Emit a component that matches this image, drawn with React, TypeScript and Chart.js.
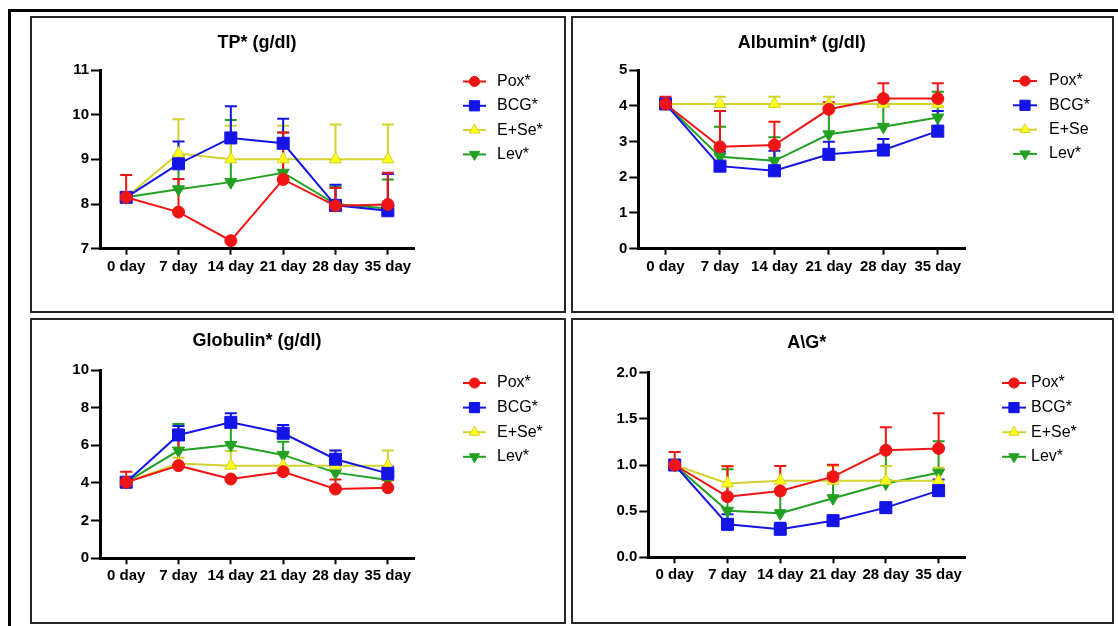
import React, { useEffect, useRef } from 'react';
import { Chart, registerables } from 'chart.js';
import { drawPoint } from 'chart.js/helpers';

Chart.register(...registerables);

// ---------- data ----------
const days = ['0 day', '7 day', '14 day', '21 day', '28 day', '35 day'];

const tpPox = [8.15, 7.82, 7.18, 8.55, 7.96, 7.99];
const tpPoxSd = [0.5, 0.74, 0, 1.05, 0.4, 0.71];
const tpBcg = [8.15, 8.9, 9.48, 9.36, 7.97, 7.85];
const tpBcgSd = [0, 0.5, 0.71, 0.55, 0.46, 0.82];
const tpESe = [8.15, 9.13, 9.0, 9.0, 9.0, 9.0];
const tpESeSd = [0, 0.77, 0.75, 0.75, 0.78, 0.78];
const tpLev = [8.15, 8.33, 8.49, 8.7, 8.0, 7.9];
const tpLevSd = [0, 0.75, 1.39, 0.9, 0.39, 0.65];

const alPox = [4.05, 2.85, 2.9, 3.9, 4.2, 4.2];
const alPoxSd = [0.2, 1.0, 0.65, 0.2, 0.43, 0.43];
const alBcg = [4.05, 2.31, 2.18, 2.64, 2.76, 3.29];
const alBcgSd = [0.1, 0.4, 0.56, 0.35, 0.31, 0.56];
const alESe = [4.05, 4.05, 4.05, 4.05, 4.05, 4.05];
const alESeSd = [0.1, 0.2, 0.2, 0.2, 0.1, 0.1];
const alLev = [4.05, 2.57, 2.46, 3.2, 3.41, 3.67];
const alLevSd = [0.1, 0.84, 0.66, 0.75, 0.6, 0.72];

const glPox = [4.04, 4.92, 4.21, 4.6, 3.68, 3.75];
const glPoxSd = [0.56, 1.5, 0, 0, 0.51, 0.4];
const glBcg = [4.04, 6.55, 7.22, 6.64, 5.26, 4.51];
const glBcgSd = [0, 0.48, 0.48, 0.44, 0.46, 0.36];
const glESe = [4.04, 5.04, 4.92, 4.92, 4.92, 4.92];
const glESeSd = [0, 0.3, 0.78, 0.6, 0.8, 0.8];
const glLev = [4.04, 5.72, 6.02, 5.49, 4.55, 4.16];
const glLevSd = [0, 1.41, 1.28, 0.7, 0.5, 0.4];

const agPox = [1.0, 0.657, 0.718, 0.874, 1.16, 1.18];
const agPoxSd = [0.14, 0.33, 0.27, 0.13, 0.25, 0.38];
const agBcg = [1.0, 0.357, 0.303, 0.397, 0.538, 0.722];
const agBcgSd = [0, 0.11, 0.07, 0, 0, 0.12];
const agESe = [1.0, 0.8, 0.83, 0.83, 0.83, 0.83];
const agESeSd = [0, 0.19, 0.16, 0.16, 0.16, 0.14];
const agLev = [1.0, 0.505, 0.477, 0.64, 0.8, 0.917];
const agLevSd = [0, 0.45, 0.25, 0.27, 0.36, 0.34];

const labelsStd = ['Pox*', 'BCG*', 'E+Se*', 'Lev*'];
const labelsAlb = ['Pox*', 'BCG*', 'E+Se', 'Lev*'];

// ---------- styles ----------
const FONT = "'Liberation Sans', Arial, sans-serif";
const RED = '#f01414';
const BLUE = '#1414e6';
const YELLOW_LINE = '#d2d22d';
const YELLOW_FILL = '#ffff1a';
const GREEN = '#22a022';

const seriesStyle = [
  { line: RED, fill: RED, pointStyle: 'circle', radius: 6, rotation: 0 },
  { line: BLUE, fill: BLUE, pointStyle: 'rect', radius: 8.5, rotation: 0 },
  { line: YELLOW_LINE, fill: YELLOW_FILL, pointStyle: 'triangle', radius: 7, rotation: 0 },
  { line: GREEN, fill: GREEN, pointStyle: 'triangle', radius: 7, rotation: 180 },
];

const errorBarPlugin = {
  id: 'errorBars',
  beforeDatasetsDraw(chart: any) {
    const ctx = chart.ctx;
    const yScale = chart.scales.y;
    for (let i = chart.data.datasets.length - 1; i >= 0; i--) {
      const ds = chart.data.datasets[i];
      const errs = ds.errorBars;
      if (!errs) continue;
      const meta = chart.getDatasetMeta(i);
      ctx.save();
      ctx.strokeStyle = ds.borderColor;
      ctx.lineWidth = 2;
      meta.data.forEach((pt: any, j: number) => {
        const e = errs[j];
        if (!e) return;
        const top = yScale.getPixelForValue(ds.data[j] + e);
        ctx.beginPath();
        ctx.moveTo(pt.x, pt.y);
        ctx.lineTo(pt.x, top);
        ctx.moveTo(pt.x - 6, top);
        ctx.lineTo(pt.x + 6, top);
        ctx.stroke();
      });
      ctx.restore();
    }
  },
};

const legendPlugin = {
  id: 'sideLegend',
  afterDraw(chart: any, _args: any, opts: any) {
    const ctx = chart.ctx;
    ctx.save();
    chart.data.datasets.forEach((ds: any, i: number) => {
      const y = opts.y0 + i * opts.dy;
      ctx.strokeStyle = ds.borderColor;
      ctx.lineWidth = 2;
      ctx.beginPath();
      ctx.moveTo(opts.x, y);
      ctx.lineTo(opts.x + opts.w, y);
      ctx.stroke();
      ctx.fillStyle = ds.pointBackgroundColor;
      ctx.strokeStyle = ds.borderColor;
      ctx.lineWidth = 1;
      drawPoint(
        ctx,
        {
          pointStyle: ds.pointStyle,
          radius: ds.pointRadius * 0.85,
          rotation: ds.pointRotation,
          borderWidth: 1,
        } as any,
        opts.x + opts.w / 2,
        y
      );
      ctx.fillStyle = '#000';
      ctx.font = `16px ${FONT}`;
      ctx.textBaseline = 'middle';
      ctx.textAlign = 'left';
      ctx.fillText(ds.label, opts.textX, y);
    });
    ctx.restore();
  },
};

type PanelProps = {
  box: { left: number; top: number; width: number; height: number };
  title: string;
  series: number[][];
  errors: number[][];
  labels: string[];
  yMin: number;
  yMax: number;
  yStep: number;
  yDecimals: number;
  yW: number;
  xH: number;
  padR: number;
  titlePad: { top: number; bottom: number };
  legend: { x: number; w: number; textX: number; y0: number; dy: number };
};

function Panel(p: PanelProps) {
  const ref = useRef<HTMLCanvasElement>(null);
  useEffect(() => {
    if (!ref.current) return;
    const datasets = p.series.map((data, i) => {
      const s = seriesStyle[i];
      return {
        label: p.labels[i],
        data,
        errorBars: p.errors[i],
        borderColor: s.line,
        backgroundColor: s.fill,
        pointBackgroundColor: s.fill,
        pointBorderColor: s.line,
        pointStyle: s.pointStyle,
        pointRadius: s.radius,
        pointRotation: s.rotation,
        pointBorderWidth: 1,
        borderWidth: 2,
        tension: 0,
      } as any;
    });
    const tickFont = { family: FONT, size: 15, weight: 'bold' as const };
    const chart = new Chart(ref.current, {
      type: 'line',
      data: { labels: days, datasets },
      options: {
        animation: false,
        responsive: true,
        maintainAspectRatio: false,
        layout: { padding: { left: 0, right: p.padR, top: 0, bottom: 0 } },
        plugins: {
          legend: { display: false },
          tooltip: { enabled: false },
          title: {
            display: true,
            text: p.title,
            fullSize: false,
            color: '#000',
            font: { family: FONT, size: 18, weight: 'bold' },
            padding: p.titlePad,
          },
          sideLegend: p.legend,
        } as any,
        scales: {
          x: {
            type: 'category',
            offset: true,
            grid: {
              display: true,
              drawOnChartArea: false,
              offset: false,
              tickLength: 6,
              tickColor: '#000',
              tickWidth: 2,
            },
            border: { display: true, color: '#000', width: 3 },
            ticks: {
              color: '#000',
              font: tickFont,
              padding: 3,
              maxRotation: 0,
              minRotation: 0,
              autoSkip: false,
            },
            afterFit: (s: any) => {
              s.height = p.xH;
            },
          },
          y: {
            min: p.yMin,
            max: p.yMax,
            grid: {
              display: true,
              drawOnChartArea: false,
              tickLength: 9,
              tickColor: '#000',
              tickWidth: 2,
            },
            border: { display: true, color: '#000', width: 3 },
            ticks: {
              stepSize: p.yStep,
              color: '#000',
              font: tickFont,
              padding: 2,
              callback: (v: any) => Number(v).toFixed(p.yDecimals),
            },
            afterFit: (s: any) => {
              s.width = p.yW;
            },
          },
        } as any,
      },
      plugins: [errorBarPlugin, legendPlugin],
    });
    return () => chart.destroy();
  }, []);
  return (
    <div
      style={{
        position: 'absolute',
        left: p.box.left,
        top: p.box.top,
        width: p.box.width,
        height: p.box.height,
      }}
    >
      <canvas ref={ref} />
    </div>
  );
}

const frame = (left: number, top: number, width: number, height: number) => (
  <div
    style={{
      position: 'absolute',
      left,
      top,
      width,
      height,
      boxSizing: 'border-box',
      border: '2px solid #262626',
    }}
  />
);

export default function App() {
  return (
    <div
      style={{
        position: 'fixed',
        left: 0,
        top: 0,
        width: 1118,
        height: 626,
        overflow: 'hidden',
        background: '#fff',
      }}
    >
      <div
        style={{
          position: 'absolute',
          left: 8,
          top: 9,
          width: 1200,
          height: 700,
          borderTop: '3px solid #000',
          borderLeft: '3px solid #000',
        }}
      />
      {frame(30, 16, 536, 297)}
      {frame(571, 16, 543, 297)}
      {frame(30, 318, 536, 306)}
      {frame(571, 318, 543, 306)}

      <Panel
        box={{ left: 32, top: 18, width: 532, height: 293 }}
        title="TP* (g/dl)"
        series={[tpPox, tpBcg, tpESe, tpLev]}
        errors={[tpPoxSd, tpBcgSd, tpESeSd, tpLevSd]}
        labels={labelsStd}
        yMin={7}
        yMax={11}
        yStep={1}
        yDecimals={0}
        yW={68}
        xH={62.3}
        padR={150}
        titlePad={{ top: 13.9, bottom: 16.5 }}
        legend={{ x: 431, w: 23, textX: 465, y0: 63.5, dy: 24.3 }}
      />
      <Panel
        box={{ left: 573, top: 18, width: 539, height: 293 }}
        title="Albumin* (g/dl)"
        series={[alPox, alBcg, alESe, alLev]}
        errors={[alPoxSd, alBcgSd, alESeSd, alLevSd]}
        labels={labelsAlb}
        yMin={0}
        yMax={5}
        yStep={1}
        yDecimals={0}
        yW={65.3}
        xH={62.3}
        padR={147}
        titlePad={{ top: 13.9, bottom: 16.5 }}
        legend={{ x: 440, w: 24, textX: 476, y0: 63, dy: 24.3 }}
      />
      <Panel
        box={{ left: 32, top: 320, width: 532, height: 302 }}
        title="Globulin* (g/dl)"
        series={[glPox, glBcg, glESe, glLev]}
        errors={[glPoxSd, glBcgSd, glESeSd, glLevSd]}
        labels={labelsStd}
        yMin={0}
        yMax={10}
        yStep={2}
        yDecimals={0}
        yW={68}
        xH={63.7}
        padR={150}
        titlePad={{ top: 9.9, bottom: 18.5 }}
        legend={{ x: 431, w: 23, textX: 465, y0: 63, dy: 24.6 }}
      />
      <Panel
        box={{ left: 573, top: 320, width: 539, height: 302 }}
        title="A\G*"
        series={[agPox, agBcg, agESe, agLev]}
        errors={[agPoxSd, agBcgSd, agESeSd, agLevSd]}
        labels={labelsStd}
        yMin={0}
        yMax={2}
        yStep={0.5}
        yDecimals={1}
        yW={75.3}
        xH={64.7}
        padR={147}
        titlePad={{ top: 12.5, bottom: 18.6 }}
        legend={{ x: 429, w: 24, textX: 458, y0: 63, dy: 24.6 }}
      />
    </div>
  );
}
